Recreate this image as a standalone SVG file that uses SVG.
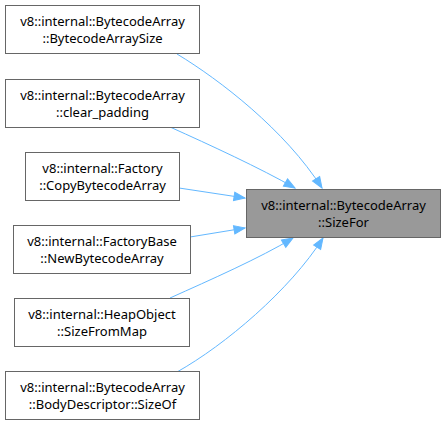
<svg xmlns="http://www.w3.org/2000/svg" width="445" height="426" viewBox="0 0 445 426">
<defs>
<style>
.n rect{fill:#ffffff;stroke:#666666;stroke-width:1}
.n.t rect{fill:#999999}
.n text{font-family:"Noto Sans","DejaVu Sans",sans-serif;font-size:13px;fill:#000000;text-anchor:middle}
.e path{fill:none;stroke:#63b8ff;stroke-width:1}
</style>
<marker id="ah" markerUnits="userSpaceOnUse" markerWidth="13" markerHeight="11" viewBox="0 0 13 11" refX="12" refY="5.5" orient="auto">
<path d="M1,1.3 L12,5.5 L1,9.7 Z" fill="#63b8ff" stroke="#63b8ff" stroke-width="1"/>
</marker>
</defs>
<rect width="445" height="426" fill="#ffffff"/>
<g id="edges" class="e">
<path d="M177,54 C220,80 285,130 322,188" marker-end="url(#ah)"/>
<path d="M170,127 C210,145 260,168 295,188" marker-end="url(#ah)"/>
<path d="M179,188 L245,198" marker-end="url(#ah)"/>
<path d="M190,237 L245,228" marker-end="url(#ah)"/>
<path d="M170,298 C210,280 260,258 293,238" marker-end="url(#ah)"/>
<path d="M177,372 C225,345 290,290 323,238" marker-end="url(#ah)"/>
</g>
<g id="target" class="n t">
<rect x="246.5" y="189.5" width="194" height="48"/>
<text x="343.5" y="210">v8::internal::BytecodeArray</text>
<text x="343.5" y="227">::SizeFor</text>
</g>
<g id="n1" class="n">
<rect x="5.5" y="5.5" width="194" height="48"/>
<text x="102.5" y="26">v8::internal::BytecodeArray</text>
<text x="102.5" y="43">::BytecodeArraySize</text>
</g>
<g id="n2" class="n">
<rect x="5.5" y="79.5" width="194" height="48"/>
<text x="102.5" y="100">v8::internal::BytecodeArray</text>
<text x="102.5" y="117">::clear_padding</text>
</g>
<g id="n3" class="n">
<rect x="25.5" y="152.5" width="154" height="48"/>
<text x="102.5" y="173">v8::internal::Factory</text>
<text x="102.5" y="190">::CopyBytecodeArray</text>
</g>
<g id="n4" class="n">
<rect x="13.5" y="225.5" width="177" height="48"/>
<text x="102" y="246">v8::internal::FactoryBase</text>
<text x="102" y="263">::NewBytecodeArray</text>
</g>
<g id="n5" class="n">
<rect x="14.5" y="298.5" width="175" height="48"/>
<text x="102" y="319">v8::internal::HeapObject</text>
<text x="102" y="336">::SizeFromMap</text>
</g>
<g id="n6" class="n">
<rect x="5.5" y="371.5" width="194" height="48"/>
<text x="102.5" y="392">v8::internal::BytecodeArray</text>
<text x="102.5" y="409">::BodyDescriptor::SizeOf</text>
</g>
</svg>
